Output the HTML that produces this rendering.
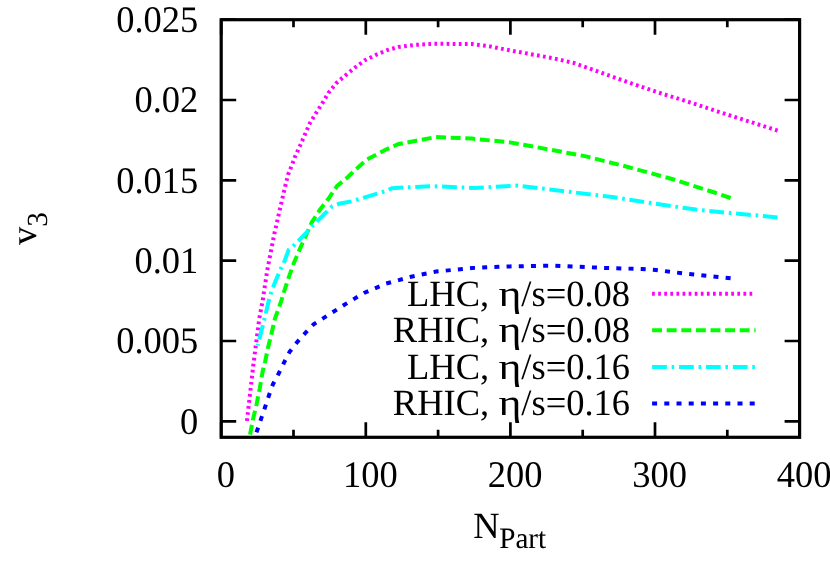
<!DOCTYPE html>
<html><head><meta charset="utf-8"><title>v3 vs Npart</title>
<style>html,body{margin:0;padding:0;background:#fff;overflow:hidden}svg{display:block;will-change:transform}text{font-family:"Liberation Serif",serif;fill:#000;text-rendering:geometricPrecision}</style></head><body>
<svg width="830" height="567" viewBox="0 0 830 567">
<rect x="0" y="0" width="830" height="567" fill="#fff"/>
<g fill="none" stroke-width="4.00" stroke-linejoin="miter">
<path d="M777.6,130.6 L718.0,111.6 L692.0,103.0 L660.0,93.0 L632.0,83.6 L602.0,73.0 L574.0,63.0 L552.0,58.0 L510.0,50.4 L490.0,46.4 L472.0,44.0 L434.0,43.8 L416.0,44.8 L398.3,47.0 L387.2,50.1 L376.0,54.8 L364.9,60.3 L355.1,67.5 L345.8,75.1 L336.5,82.9 L328.5,92.8 L322.5,102.9 L315.8,113.5 L309.6,123.7 L304.7,135.1 L299.8,146.2 L294.8,157.3 L292.7,163.1 L288.1,174.6 L285.2,186.3 L282.4,198.3 L279.7,210.2 L275.7,227.9 L274.3,234.0 L270.8,252.0 L267.3,270.1 L263.6,294.2 L262.7,300.6 L259.3,318.5 L256.2,342.6 L253.1,366.7 L252.5,372.5 L246.9,421.2 L246.7,423.0" stroke="#ff00ff" stroke-dasharray="2.7 3.39"/>
<path d="M730.6,198.0 L716.0,193.0 L672.0,179.0 L628.0,167.0 L586.0,156.4 L552.0,150.0 L510.0,142.4 L472.0,138.6 L436.0,137.0 L398.0,144.2 L386.0,149.6 L367.0,159.5 L353.8,171.2 L347.6,177.3 L337.1,185.9 L328.8,198.3 L319.8,210.0 L311.8,222.3 L299.8,249.1 L294.0,262.7 L289.1,276.3 L284.4,290.5 L281.2,301.2 L275.0,318.5 L271.7,332.7 L268.2,346.9 L265.1,361.7 L262.7,371.2 L259.6,389.1 L256.5,404.6 L253.1,418.8 L250.1,434.2 L249.5,437.3" stroke="#00ff00" stroke-dasharray="9.9 4.7"/>
<path d="M777.6,217.4 L730.0,213.0 L696.0,209.6 L664.0,205.0 L612.0,197.0 L552.0,189.7 L517.3,185.6 L474.0,188.0 L430.6,186.1 L392.0,188.2 L386.0,191.0 L351.3,201.4 L339.0,203.8 L332.2,206.3 L322.9,215.6 L313.0,225.4 L307.8,231.2 L299.8,239.3 L294.6,244.8 L288.7,249.8 L284.4,261.5 L281.3,267.7 L275.7,280.6 L271.2,292.3 L268.8,300.6 L264.5,318.5 L258.1,344.4 L257.8,345.5" stroke="#00ffff" stroke-dasharray="14.8 4.7 2.6 4.8"/>
<path d="M730.6,278.2 L718.0,277.0 L680.0,273.0 L656.0,270.0 L642.0,269.0 L606.0,268.0 L552.0,265.6 L510.0,266.4 L472.0,268.0 L436.0,271.6 L410.0,277.0 L386.0,283.6 L364.0,293.0 L344.0,305.0 L323.8,317.9 L313.6,324.3 L305.2,333.1 L297.0,342.3 L289.6,351.9 L284.0,362.7 L278.7,373.5 L272.9,384.4 L268.8,395.9 L264.9,407.7 L261.0,419.1 L257.1,430.7 L256.3,433.0" stroke="#0000ff" stroke-dasharray="5.0 7.2"/>
<path d="M652.1,293.8 L755.6,293.8" stroke="#ff00ff" stroke-dasharray="2.7 3.39"/>
<path d="M652.1,330.3 L755.6,330.3" stroke="#00ff00" stroke-dasharray="9.9 4.7"/>
<path d="M652.1,367.0 L755.6,367.0" stroke="#00ffff" stroke-dasharray="14.8 4.7 2.6 4.8"/>
<path d="M652.1,403.6 L755.6,403.6" stroke="#0000ff" stroke-dasharray="5.0 7.2"/>
</g>
<g stroke="#000" stroke-width="2.70" fill="none">
<path d="M221.20,437.30 v-15.00 M221.20,19.70 v15.00"/>
<path d="M293.50,437.30 v-7.50 M293.50,19.70 v7.50"/>
<path d="M365.80,437.30 v-15.00 M365.80,19.70 v15.00"/>
<path d="M438.10,437.30 v-7.50 M438.10,19.70 v7.50"/>
<path d="M510.40,437.30 v-15.00 M510.40,19.70 v15.00"/>
<path d="M582.70,437.30 v-7.50 M582.70,19.70 v7.50"/>
<path d="M655.00,437.30 v-15.00 M655.00,19.70 v15.00"/>
<path d="M727.30,437.30 v-7.50 M727.30,19.70 v7.50"/>
<path d="M799.60,437.30 v-15.00 M799.60,19.70 v15.00"/>
<path d="M221.20,421.30 h15.00 M799.60,421.30 h-15.00"/>
<path d="M221.20,340.98 h15.00 M799.60,340.98 h-15.00"/>
<path d="M221.20,260.66 h15.00 M799.60,260.66 h-15.00"/>
<path d="M221.20,180.34 h15.00 M799.60,180.34 h-15.00"/>
<path d="M221.20,100.02 h15.00 M799.60,100.02 h-15.00"/>
<path d="M221.20,19.70 h15.00 M799.60,19.70 h-15.00"/>
</g>
<rect x="221.20" y="19.70" width="578.40" height="417.60" fill="none" stroke="#000" stroke-width="3.2"/>
<g font-size="36.50">
<text transform="translate(198.30,433.60) scale(1.000,1.030)" text-anchor="end">0</text>
<text transform="translate(198.30,353.28) scale(1.000,1.030)" text-anchor="end">0.005</text>
<text transform="translate(198.30,272.96) scale(1.000,1.030)" text-anchor="end">0.01</text>
<text transform="translate(198.30,192.64) scale(1.000,1.030)" text-anchor="end">0.015</text>
<text transform="translate(198.30,112.32) scale(1.000,1.030)" text-anchor="end">0.02</text>
<text transform="translate(198.30,32.00) scale(1.000,1.030)" text-anchor="end">0.025</text>
<text transform="translate(225.80,487.00) scale(1.000,1.030)" text-anchor="middle">0</text>
<text transform="translate(370.40,487.00) scale(1.000,1.030)" text-anchor="middle">100</text>
<text transform="translate(515.00,487.00) scale(1.000,1.030)" text-anchor="middle">200</text>
<text transform="translate(659.60,487.00) scale(1.000,1.030)" text-anchor="middle">300</text>
<text transform="translate(804.20,487.00) scale(1.000,1.030)" text-anchor="middle">400</text>
<text transform="translate(489.20,305.70) scale(1.000,1.015)" text-anchor="end">LHC,</text>
<text transform="translate(498.60,305.70) scale(1.200,1.015)" text-anchor="start">η</text>
<text transform="translate(630.10,305.70) scale(1.000,1.015)" text-anchor="end">/s=0.08</text>
<text transform="translate(489.20,342.30) scale(1.000,1.015)" text-anchor="end">RHIC,</text>
<text transform="translate(498.60,342.30) scale(1.200,1.015)" text-anchor="start">η</text>
<text transform="translate(630.10,342.30) scale(1.000,1.015)" text-anchor="end">/s=0.08</text>
<text transform="translate(489.20,378.80) scale(1.000,1.015)" text-anchor="end">LHC,</text>
<text transform="translate(498.60,378.80) scale(1.200,1.015)" text-anchor="start">η</text>
<text transform="translate(630.10,378.80) scale(1.000,1.015)" text-anchor="end">/s=0.16</text>
<text transform="translate(489.20,415.40) scale(1.000,1.015)" text-anchor="end">RHIC,</text>
<text transform="translate(498.60,415.40) scale(1.200,1.015)" text-anchor="start">η</text>
<text transform="translate(630.10,415.40) scale(1.000,1.015)" text-anchor="end">/s=0.16</text>
<text transform="translate(473.3,537.5) scale(1,1.015)">N<tspan font-size="29.20" dy="10.8" dx="-0.5">Part</tspan></text>
<text transform="translate(36.2,245.1) rotate(-90)" x="0" y="0">v<tspan font-size="29.20" dy="10.9">3</tspan></text>
</g>
</svg></body></html>
